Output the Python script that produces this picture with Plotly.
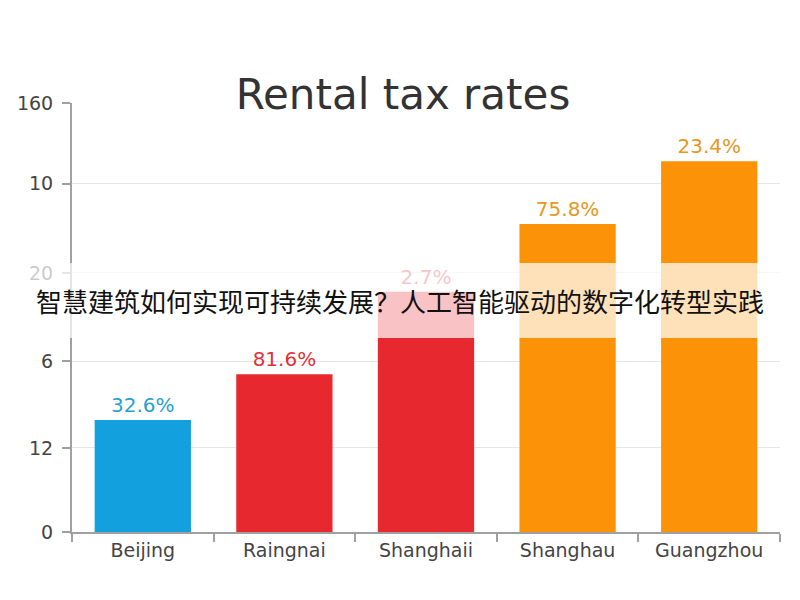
import plotly.graph_objects as go

# ---- data ----
cities = ["Beijing", "Raingnai", "Shanghaii", "Shanghau", "Guangzhou"]
bar_heights = [1.305, 1.84, 2.80, 3.59, 4.32]          # in tick-slot units of the axis
bar_labels = ["32.6%", "81.6%", "2.7%", "75.8%", "23.4%"]
bar_colors = ["#12a0de", "#e8282f", "#e8282f", "#fb9207", "#fb9207"]
label_colors = ["#2a9fd2", "#e0323a", "#e0323a", "#e8961f", "#e8961f"]
tick_pos = [0, 0.98, 1.99, 3.02, 4.06, 5.0]
tick_text = ["0", "12", "6", "20", "10", "160"]
title_text = "Rental tax rates"
banner_text = "智慧建筑如何实现可持续发展？人工智能驱动的数字化转型实践"

W, H = 800, 600
L, R, T, B = 72, 20, 103, 68
pw, ph = W - L - R, H - T - B

fig = go.Figure(go.Bar(
    x=cities, y=bar_heights,
    marker=dict(color=bar_colors, line=dict(width=0)),
    text=bar_labels, textposition="outside", cliponaxis=False,
    textfont=dict(family="DejaVu Sans", size=20, color=label_colors),
    width=0.68,
))

fig.update_layout(
    width=W, height=H,
    margin=dict(l=L, r=R, t=T, b=B, autoexpand=False),
    paper_bgcolor="white", plot_bgcolor="white",
    showlegend=False,
    title=dict(text=title_text, x=403 / W, xanchor="center", y=1 - 94 / H, yanchor="middle",
               font=dict(family="DejaVu Sans", size=42, color="#333333")),
    xaxis=dict(showline=True, linecolor="#a0a0a0", linewidth=2, ticks="outside",
               tickson="boundaries", ticklen=8, tickcolor="#a0a0a0", tickwidth=1.5,
               tickfont=dict(family="DejaVu Sans", size=19, color="#444444"),
               showgrid=False, automargin=False),
    yaxis=dict(range=[0, 5], showline=True, linecolor="#a0a0a0", linewidth=2,
               ticks="outside", ticklen=8, tickcolor="#a0a0a0", tickwidth=1.5,
               tickvals=tick_pos, ticktext=tick_text, ticklabelstandoff=5,
               tickfont=dict(family="DejaVu Sans", size=19, color="#444444"),
               showgrid=True, gridcolor="#e6e6e6", gridwidth=1, zeroline=False,
               automargin=False),
)

# translucent banner across the whole picture
y_top, y_bot = 263, 338
fig.add_shape(type="rect", xref="paper", yref="paper", layer="above",
              x0=-L / pw, x1=1 + R / pw,
              y0=(H - B - y_bot) / ph, y1=(H - B - y_top) / ph,
              fillcolor="rgba(255,255,255,0.72)", line=dict(width=0))
fig.add_annotation(text=banner_text, xref="paper", yref="paper",
                   x=(400 - L) / pw, y=(H - B - 300) / ph, showarrow=False,
                   xanchor="center", yanchor="middle",
                   font=dict(family="Noto Sans CJK SC", size=26, color="#111111"))

fig.write_html("out.html", config={"displayModeBar": False},
               post_script="document.body.style.margin='0';")
